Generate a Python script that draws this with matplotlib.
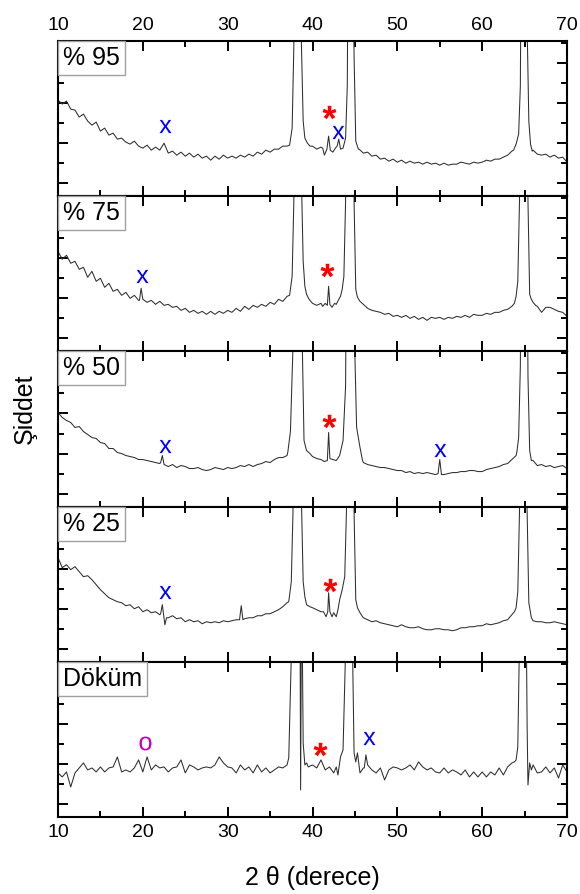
import numpy as np
import matplotlib
matplotlib.use("Agg")
import matplotlib.pyplot as plt
from matplotlib.offsetbox import AnchoredText
from matplotlib.textpath import TextPath
from matplotlib.font_manager import FontProperties
from matplotlib.path import Path

plt.rcParams['font.family'] = ['Liberation Sans', 'DejaVu Sans']

# 2-theta grid for the background (panel px units)
theta_bg = np.arange(10, 70.01, 0.5)

bg_95 = [96, 92, 95, 87, 86, 79, 82, 75, 71, 74,
         65, 68, 61, 63, 57, 58, 54, 52, 55, 50,
         48, 51, 46, 49, 46, 53, 43, 45, 41, 44,
         40, 43, 39, 42, 38, 40, 36, 40, 37, 41,
         38, 40, 38, 41, 39, 42, 40, 44, 42, 46,
         44, 47, 47, 50, 50, 52, 400, 150, 58, 52,
         50, 47, 49, 44, 46, 48, 50, 47, 60, 400,
         55, 47, 43, 44, 40, 41, 37, 38, 35, 37,
         34, 36, 33, 35, 33, 34, 32, 34, 32, 33,
         31, 33, 31, 32, 32, 34, 33, 32, 34, 33,
         34, 36, 35, 37, 37, 39, 41, 45, 52, 110,
         400, 75, 46, 42, 41, 42, 39, 41, 38, 39,
         34]
bg_75 = [100, 92, 96, 88, 90, 82, 84, 74, 80, 70,
         73, 64, 68, 60, 62, 56, 59, 53, 56, 51,
         54, 49, 51, 47, 50, 46, 47, 44, 45, 41,
         43, 39, 41, 38, 40, 37, 40, 37, 40, 38,
         41, 39, 43, 40, 45, 42, 46, 44, 47, 45,
         49, 47, 52, 50, 55, 80, 400, 150, 65, 52,
         48, 46, 48, 45, 44, 47, 55, 75, 400, 400,
         62, 50, 47, 43, 41, 40, 39, 37, 38, 35,
         36, 34, 36, 33, 35, 32, 34, 31, 34, 33,
         34, 32, 34, 33, 35, 34, 36, 34, 37, 36,
         36, 38, 37, 39, 39, 41, 42, 45, 55, 150,
         400, 57, 49, 45, 39, 44, 44, 42, 40, 39,
         35]
bg_50 = [94, 89, 86, 84, 79, 80, 75, 72, 69, 68,
         64, 63, 58, 58, 54, 53, 51, 50, 49, 47,
         47, 46, 45, 44, 43, 46, 40, 42, 39, 41,
         40, 38, 38, 39, 37, 36, 37, 39, 38, 37,
         39, 38, 39, 41, 40, 42, 40, 42, 43, 45,
         44, 47, 49, 49, 51, 75, 400, 160, 66, 53,
         50, 48, 47, 45, 47, 47, 51, 66, 400, 400,
         150, 59, 44, 42, 41, 40, 39, 39, 38, 37,
         36, 36, 34, 35, 33, 34, 33, 34, 33, 32,
         33, 32, 33, 34, 34, 35, 35, 36, 36, 35,
         35, 37, 38, 39, 40, 42, 43, 47, 51, 140,
         400, 56, 46, 41, 42, 40, 41, 39, 40, 41,
         38]
bg_25 = [104, 94, 97, 92, 95, 90, 85, 86, 82, 77,
         72, 68, 64, 62, 60, 59, 56, 57, 53, 55,
         50, 52, 49, 50, 47, 50, 44, 46, 43, 44,
         40, 42, 40, 41, 38, 40, 39, 40, 39, 41,
         40, 41, 42, 50, 43, 44, 44, 46, 46, 48,
         48, 50, 52, 55, 59, 80, 400, 160, 65, 55,
         54, 52, 50, 45, 50, 45, 62, 72, 400, 400,
         62, 49, 44, 42, 40, 41, 39, 38, 37, 36,
         35, 37, 35, 34, 34, 35, 33, 32, 32, 33,
         33, 32, 32, 31, 32, 34, 34, 35, 35, 36,
         36, 38, 37, 38, 39, 41, 42, 47, 54, 150,
         400, 59, 41, 40, 40, 39, 39, 40, 39, 38,
         37]
bg_dokum = [44, 40, 45, 30, 44, 49, 54, 47, 49, 45,
            50, 45, 49, 50, 60, 45, 47, 45, 49, 57,
            45, 60, 47, 52, 49, 50, 45, 49, 50, 57,
            44, 52, 50, 47, 49, 50, 49, 52, 60, 54,
            50, 49, 44, 52, 47, 50, 44, 52, 45, 49,
            44, 47, 50, 49, 52, 160, 400, 160, 52, 50,
            52, 49, 57, 47, 50, 44, 42, 67, 400, 400,
            55, 44, 49, 52, 47, 44, 49, 37, 47, 50,
            49, 47, 49, 52, 47, 55, 50, 47, 49, 45,
            44, 49, 44, 47, 45, 42, 47, 40, 45, 40,
            45, 40, 45, 42, 49, 42, 50, 54, 57, 150,
            400, 54, 52, 44, 45, 50, 44, 49, 39, 52,
            45]

# peak regions read at finer steps
peaks_95 = [
    ([37.3, 37.6, 37.8, 38.0, 38.4, 38.7, 38.9, 39.1, 39.4, 39.7],
     [51, 68, 150, 400, 400, 150, 75, 58, 53, 50]),
    ([41.2, 41.4, 41.7, 41.9, 42.1, 42.4, 42.7, 42.9, 43.1, 43.3, 43.6, 43.9,
      44.1, 44.3, 44.6, 44.9, 45.1, 45.4],
     [48, 41, 47, 60, 46, 44, 48, 50, 57, 47, 48, 58, 110, 400, 400, 140, 55, 47]),
    ([63.7, 64.0, 64.3, 64.5, 64.7, 65.0, 65.3, 65.5, 65.7, 65.9],
     [46, 52, 62, 110, 400, 400, 170, 75, 52, 45]),
]
peaks_75 = [
    ([19.6, 19.8, 20.0], [51, 63, 52]),
    ([37.3, 37.6, 37.8, 38.0, 38.4, 38.7, 38.9, 39.1, 39.3, 39.6],
     [56, 75, 150, 400, 400, 170, 90, 65, 57, 52]),
    ([41.2, 41.5, 41.75, 41.9, 42.05, 42.3, 42.6, 42.8, 43.1, 43.3, 43.5, 43.7,
      43.9, 44.1, 44.6, 44.9, 45.1, 45.3, 45.6],
     [45, 48, 46, 65, 47, 44, 48, 47, 52, 55, 62, 75, 150, 400, 400, 150, 62, 54, 50]),
    ([63.8, 64.0, 64.2, 64.4, 64.6, 65.1, 65.4, 65.6, 65.8, 66.0, 66.3],
     [48, 55, 70, 150, 400, 400, 150, 57, 52, 49, 46]),
]
peaks_50 = [
    ([22.1, 22.3, 22.5], [44, 51, 42]),
    ([37.1, 37.4, 37.7, 38.0, 38.5, 38.8, 39.0, 39.3, 39.7],
     [55, 75, 160, 400, 400, 160, 66, 56, 53]),
    ([41.4, 41.75, 41.9, 42.05, 42.4, 42.8, 43.2, 43.6, 43.9, 44.1, 44.8, 45.0,
      45.2, 45.6, 45.9],
     [45, 46, 74, 48, 47, 46, 51, 66, 120, 400, 400, 150, 79, 59, 46]),
    ([54.8, 55.0, 55.2], [33, 47, 32]),
    ([64.1, 64.3, 64.5, 64.7, 65.2, 65.4, 65.6, 65.8],
     [55, 69, 140, 400, 400, 130, 56, 46]),
]
peaks_25 = [
    ([22.1, 22.3, 22.6, 22.8], [48, 57, 37, 44]),
    ([31.4, 31.6, 31.8], [42, 56, 42]),
    ([37.2, 37.5, 37.7, 37.9, 38.4, 38.7, 38.9, 39.1, 39.3, 39.7],
     [60, 80, 150, 400, 400, 160, 80, 65, 57, 55]),
    ([41.3, 41.6, 41.8, 41.9, 42.05, 42.3, 42.5, 42.8, 43.0, 43.2, 43.5, 43.8,
      44.0, 44.2, 44.7, 44.9, 45.1, 45.3, 45.6, 45.9],
     [50, 45, 50, 69, 50, 45, 49, 45, 52, 62, 72, 85, 150, 400, 400, 150, 62, 54, 49, 45]),
    ([63.8, 64.0, 64.2, 64.4, 64.6, 65.1, 65.3, 65.5, 65.8],
     [50, 54, 70, 150, 400, 400, 150, 59, 44]),
]
peaks_dokum = [
    ([37.0, 37.2, 37.5, 37.8, 38.3, 38.45, 38.6, 38.72, 38.9, 39.1, 39.3],
     [52, 59, 160, 400, 400, 400, 27, 250, 74, 52, 54]),
    ([42.8, 43.0, 43.3, 43.6, 43.85, 44.0, 44.6, 44.75, 44.9, 45.1, 45.3, 45.6],
     [50, 42, 60, 67, 150, 400, 400, 150, 64, 55, 64, 44]),
    ([46.1, 46.3, 46.5], [49, 62, 52]),
    ([63.8, 64.0, 64.2, 64.35, 64.5, 65.0, 65.15, 65.3, 65.4, 65.6, 65.8],
     [55, 57, 70, 150, 400, 400, 250, 90, 32, 54, 47]),
]

# phase marks: x, y, symbol
marks_95 = ([22.6, 41.9, 43.0], [70, 84, 64], ['x', '*', 'x'])
marks_75 = ([19.9, 41.7], [75, 81], ['x', '*'])
marks_50 = ([22.6, 41.9, 55.0], [61, 85, 57], ['x', '*', 'x'])
marks_25 = ([22.6, 42.1], [70, 77], ['x', '*'])
marks_dokum = ([20.2, 40.9, 46.7], [74, 68, 79], ['o', '*', 'x'])

labels = ['% 95', '% 75', '% 50', '% 25', 'Döküm']
backgrounds = [bg_95, bg_75, bg_50, bg_25, bg_dokum]
peaks = [peaks_95, peaks_75, peaks_50, peaks_25, peaks_dokum]
marks = [marks_95, marks_75, marks_50, marks_25, marks_dokum]


def build(bg, segs):
    x = theta_bg
    y = np.array(bg, dtype=float)
    keep = np.ones(len(x), dtype=bool)
    for sx, sy in segs:
        keep &= ~((x >= sx[0]) & (x <= sx[-1]))
    xs = np.concatenate([x[keep]] + [np.array(s[0], float) for s in segs])
    ys = np.concatenate([y[keep]] + [np.array(s[1], float) for s in segs])
    order = np.argsort(xs)
    return xs[order], ys[order]


def glyph(ch, weight):
    p = TextPath((0, 0), ch, size=10,
                 prop=FontProperties(family='Liberation Sans', weight=weight))
    v = p.vertices.copy()
    m = p.codes != Path.CLOSEPOLY
    c = (v[m].min(axis=0) + v[m].max(axis=0)) / 2
    v = v - c
    v[~m] = 0
    return Path(v, p.codes)


mark_style = {
    'x': dict(path=glyph('x', 'normal'), color='#0000ff', ms=9.5),
    '*': dict(path=glyph('*', 'bold'), color='#ff0000', ms=10),
    'o': dict(path=glyph('o', 'normal'), color='#c000c0', ms=10),
}

fig, axes = plt.subplots(5, 1, figsize=(5.8, 8.94), dpi=100, sharex=True,
                         gridspec_kw=dict(hspace=0))
fig.subplots_adjust(left=58/580, right=567/580, top=1-41/894, bottom=1-817/894)

for i, ax in enumerate(axes):
    xs, ys = build(backgrounds[i], peaks[i])
    ax.plot(xs, ys, color='#2e2e2e', lw=0.75)
    mx, my, ms = marks[i]
    for x, y, s in zip(mx, my, ms):
        st = mark_style[s]
        ax.plot([x], [y], ls='none', marker=st['path'], ms=st['ms'],
                color=st['color'], mec=st['color'], mew=0)
    ax.set_xlim(10, 70)
    ax.set_ylim(0, 155)
    ax.set_xticks(np.arange(10, 71, 10))
    ax.set_xticks(np.arange(15, 70, 10), minor=True)
    ax.set_yticks([13, 53, 93, 133])
    ax.set_yticks([33, 73, 113, 153], minor=True)
    ax.tick_params(which='both', direction='in', top=True, bottom=True,
                   left=True, right=True, width=1.4, labelleft=False,
                   labelsize=14, pad=5,
                   labeltop=(i == 0), labelbottom=(i == 4))
    ax.tick_params(which='major', length=7)
    ax.tick_params(which='minor', length=4)
    for sp in ax.spines.values():
        sp.set_linewidth(1.5)

    at = AnchoredText(labels[i], loc='upper left', pad=0.2, borderpad=0,
                      prop=dict(size=18), frameon=True)
    at.patch.set_boxstyle('square,pad=0')
    at.patch.set_edgecolor('#a0a0a0')
    at.patch.set_linewidth(1)
    at.set_zorder(5)
    ax.add_artist(at)

fig.text(25/580, 1-409/894, 'Şiddet', rotation=90, fontsize=18,
         ha='center', va='center')
fig.text(312.5/580, 1-878/894, '2 θ (derece)', fontsize=18,
         ha='center', va='center')

fig.savefig('out.png', dpi=100)
